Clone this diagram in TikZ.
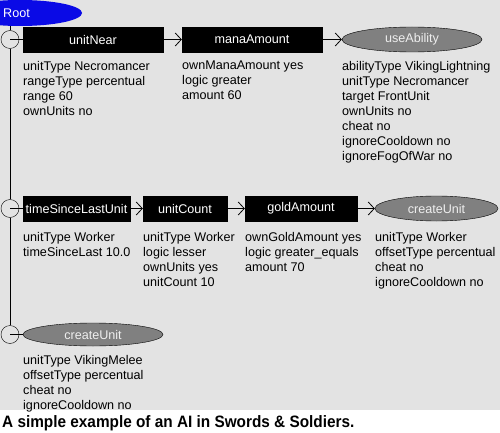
\documentclass[tikz,border=0pt]{standalone}
\usepackage{fontspec}
\setmainfont{Liberation Sans}
\usetikzlibrary{shapes.geometric,arrows.meta}
\definecolor{bg}{HTML}{E3E3E3}
\definecolor{ellgray}{HTML}{808080}
\definecolor{rootblue}{HTML}{0A0AE6}
\definecolor{elltext}{HTML}{EEEEEE}
\tikzset{
  txt/.style={font=\fontsize{12.6}{15}\selectfont},
  box/.style={txt,draw=black,fill=black,text=white,minimum height=25pt,inner sep=0pt},
  act/.style={txt,ellipse,draw=black,fill=ellgray,text=elltext,minimum height=25pt,inner sep=0pt},
  info/.style={txt,anchor=north west,inner sep=0pt,align=left,execute at begin node={\strut}},
  junction/.style={circle,draw=black,minimum size=18pt,inner sep=0pt},
  link/.style={draw=black,line width=0.8pt,-{Straight Barb[length=6pt,width=13pt]}},
  trunk/.style={draw=black,line width=0.8pt},
}
\begin{document}
\begin{tikzpicture}[x=1pt,y=-1pt]
\useasboundingbox (0,0) rectangle (500,433);
\clip (0,0) rectangle (500,433);
\fill[bg] (0,0) rectangle (500,410);
\fill[white] (0,410) rectangle (500,433);

% root
\node[ellipse,fill=rootblue,minimum width=124pt,minimum height=26pt,inner sep=0pt] (root) at (20,13) {};
\node[txt,text=white,anchor=west,inner sep=0pt] (rootlabel) at (3,13) {Root};
\coordinate (rootfoot) at (10,25.8);

% junctions
\node[junction] (j1) at (10,39.5) {};
\node[junction] (j2) at (10,208.5) {};
\node[junction] (j3) at (10,334.5) {};

% row 1
\node[box,minimum width=140pt] (unitNear) at (93,39.5) {unitNear};
\node[box,minimum width=140pt] (manaAmount) at (252,39.5) {manaAmount};
\node[act,minimum width=140pt] (useAbility) at (412,39.5) {useAbility};

% row 2
\node[box,minimum width=107pt] (timeSince) at (76.5,208.5) {timeSinceLastUnit};
\node[box,minimum width=84pt] (unitCount) at (185,208.5) {unitCount};
\node[box,minimum width=112pt] (goldAmount) at (301,208.5) {goldAmount};
\node[act,minimum width=123pt] (createUnitA) at (436.5,208.5) {createUnit};

% row 3
\node[act,minimum width=140pt,minimum height=23pt] (createUnitB) at (93,334.5) {createUnit};

% trunk
\draw[trunk] (rootfoot) -- (j1.north);
\draw[trunk] (j1.south) -- (j2.north);
\draw[trunk] (j2.south) -- (j3.north);
\draw[trunk] (j1.center) -- (unitNear.west);
\draw[trunk] (j2.center) -- (timeSince.west);
\draw[trunk] (j3.center) -- (createUnitB.west);

% links
\draw[link] (unitNear.east) -- (manaAmount.west);
\draw[link] (manaAmount.east) -- (useAbility.west);
\draw[link] (timeSince.east) -- (unitCount.west);
\draw[link] (unitCount.east) -- (goldAmount.west);
\draw[link] (goldAmount.east) -- (createUnitA.west);

% info texts
\node[info] (i1) at (23,61) {unitType Necromancer\\rangeType percentual\\range 60\\ownUnits no};
\node[info] (i2) at (182,61) {ownManaAmount yes\\logic greater\\amount 60};
\node[info] (i3) at (342,61) {abilityType VikingLightning\\unitType Necromancer\\target FrontUnit\\ownUnits no\\cheat no\\ignoreCooldown no\\ignoreFogOfWar no};
\node[info] (i4) at (23,232) {unitType Worker\\timeSinceLast 10.0};
\node[info] (i5) at (143,232) {unitType Worker\\logic lesser\\ownUnits yes\\unitCount 10};
\node[info] (i6) at (245,232) {ownGoldAmount yes\\logic greater\_equals\\amount 70};
\node[info] (i7) at (375,232) {unitType Worker\\offsetType percentual\\cheat no\\ignoreCooldown no};
\node[info] (i8) at (23,355) {unitType VikingMelee\\offsetType percentual\\cheat no\\ignoreCooldown no};

% caption
\node[anchor=base west,inner sep=0pt,font=\fontsize{16.5}{16.5}\selectfont\bfseries] (caption) at (2,427) {\scalebox{0.93}[1]{A simple example of an AI in Swords \& Soldiers.}};
\end{tikzpicture}
\end{document}
